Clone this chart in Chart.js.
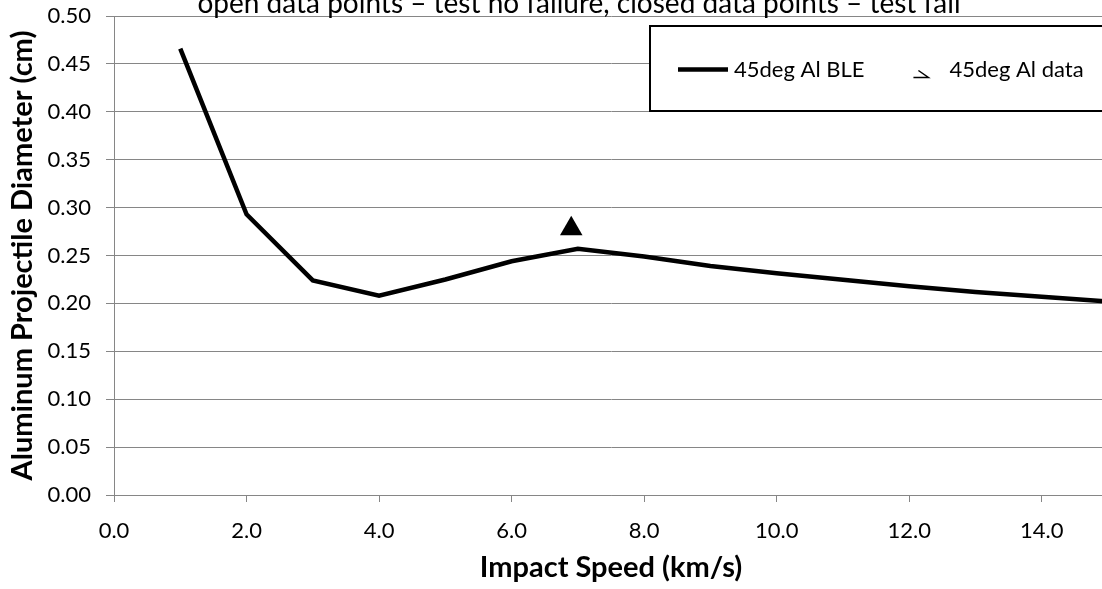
<!DOCTYPE html>
<html><head><meta charset="utf-8">
<script src="https://cdn.jsdelivr.net/npm/chart.js@4.4.0/dist/chart.umd.min.js"></script>
<style>
html,body{margin:0;padding:0;overflow:hidden;background:#fff;width:1102px;height:589px;}
#wrap{position:absolute;left:0;top:0;width:1158px;height:589px;}
</style></head><body>
<div id="wrap"><canvas id="c"></canvas></div>
<script>
const chartTitle = 'open data points \u2013 test no failure, closed data points \u2013 test fail';
const xAxisTitle = 'Impact Speed (km/s)';
const yAxisTitle = 'Aluminum Projectile Diameter (cm)';
const bleLabel = '45deg Al BLE';
const dataLabel = '45deg Al data';
const bleSpeeds = [1, 2, 3, 4, 5, 6, 7, 8, 9, 10, 11, 12, 13, 14, 15];
const bleDiameters = [0.466, 0.293, 0.224, 0.208, 0.225, 0.244, 0.257, 0.249, 0.239, 0.2315, 0.2246, 0.218, 0.212, 0.207, 0.202];
const testSpeeds = [6.9];
const testDiameters = [0.278];
const xTicks = [0, 2, 4, 6, 8, 10, 12, 14];
const yTicks = [0, 0.05, 0.10, 0.15, 0.20, 0.25, 0.30, 0.35, 0.40, 0.45, 0.50];

const FONT = "Lato, Carlito, 'Open Sans', sans-serif";
const GRID = '#868686';

const titlePlugin = {
  id: 'topTitle',
  afterDraw(chart) {
    const ctx = chart.ctx;
    ctx.save();
    ctx.font = '28px ' + FONT;
    ctx.fillStyle = '#000';
    ctx.textAlign = 'center';
    ctx.textBaseline = 'alphabetic';
    ctx.fillText(chartTitle, chart.width / 2, 12.7);
    ctx.restore();
  }
};

const legendPlugin = {
  id: 'boxLegend',
  afterDraw(chart) {
    const {ctx, chartArea: a} = chart;
    const left = a.left + 536, top = a.top + 10, w = 466, h = 85;
    const cy = top + h / 2 + 1;
    ctx.save();
    ctx.fillStyle = '#fff';
    ctx.fillRect(left, top, w, h);
    ctx.strokeStyle = '#000';
    ctx.lineWidth = 2;
    ctx.strokeRect(left, top, w, h);
    ctx.font = '22px ' + FONT;
    ctx.fillStyle = '#000';
    ctx.textBaseline = 'middle';
    ctx.textAlign = 'left';
    let x = left + 28;
    ctx.lineWidth = 4.5;
    ctx.beginPath(); ctx.moveTo(x, cy); ctx.lineTo(x + 50, cy); ctx.stroke();
    x += 56;
    const l1 = chart.data.datasets[0].label;
    ctx.fillText(l1, x, cy);
    x += ctx.measureText(l1).width + 49;
    ctx.lineWidth = 1.5;
    ctx.beginPath();
    ctx.moveTo(x + 5, cy + 1);
    ctx.lineTo(x + 15, cy + 8);
    ctx.lineTo(x, cy + 8);
    ctx.stroke();
    x += 36;
    ctx.fillText(chart.data.datasets[1].label, x, cy);
    ctx.restore();
  }
};

new Chart(document.getElementById('c'), {
  type: 'scatter',
  data: {
    datasets: [
      {
        label: bleLabel,
        data: bleSpeeds.map((s, i) => ({x: s, y: bleDiameters[i]})),
        showLine: true,
        borderColor: '#000',
        backgroundColor: '#000',
        borderWidth: 4.5,
        pointRadius: 0,
        pointHoverRadius: 0,
        tension: 0
      },
      {
        label: dataLabel,
        data: testSpeeds.map((s, i) => ({x: s, y: testDiameters[i]})),
        showLine: false,
        pointStyle: 'triangle',
        pointRadius: 13,
        backgroundColor: '#000',
        borderColor: '#000',
        borderWidth: 0
      }
    ]
  },
  options: {
    responsive: true,
    maintainAspectRatio: false,
    animation: false,
    layout: {padding: {top: 0, right: 50, bottom: 0, left: 0}},
    plugins: {legend: {display: false}, tooltip: {enabled: false}, title: {display: false}},
    scales: {
      x: {
        type: 'linear', position: 'bottom', min: 0, max: 15,
        afterBuildTicks: s => { s.ticks = xTicks.map(v => ({value: v})); },
        afterFit: s => { s.height = 94; },
        grid: {display: true, drawOnChartArea: false, drawTicks: true, tickLength: 7, color: GRID},
        border: {color: GRID, width: 1},
        ticks: {color: '#000', font: {family: FONT, size: 22}, padding: 16, maxRotation: 0, autoSkip: false,
                callback: v => Number(v).toFixed(1)},
        title: {display: true, text: xAxisTitle, color: '#000', font: {family: FONT, size: 29, weight: 'bold'},
                padding: {top: 0, bottom: 4}}
      },
      y: {
        type: 'linear', min: 0, max: 0.5,
        afterBuildTicks: s => { s.ticks = yTicks.map(v => ({value: v})); },
        afterFit: s => { s.width = 114; s.paddingTop = 16; s.paddingBottom = 0; },
        grid: {color: GRID, tickLength: 8},
        border: {color: GRID, width: 1},
        ticks: {color: '#000', font: {family: FONT, size: 22}, padding: 15,
                callback: v => Number(v).toFixed(2)},
        title: {display: true, text: yAxisTitle, color: '#000', font: {family: FONT, size: 29, weight: 'bold'},
                padding: {top: 5, bottom: 0}}
      }
    }
  },
  plugins: [titlePlugin, legendPlugin]
});
</script>
</body></html>
